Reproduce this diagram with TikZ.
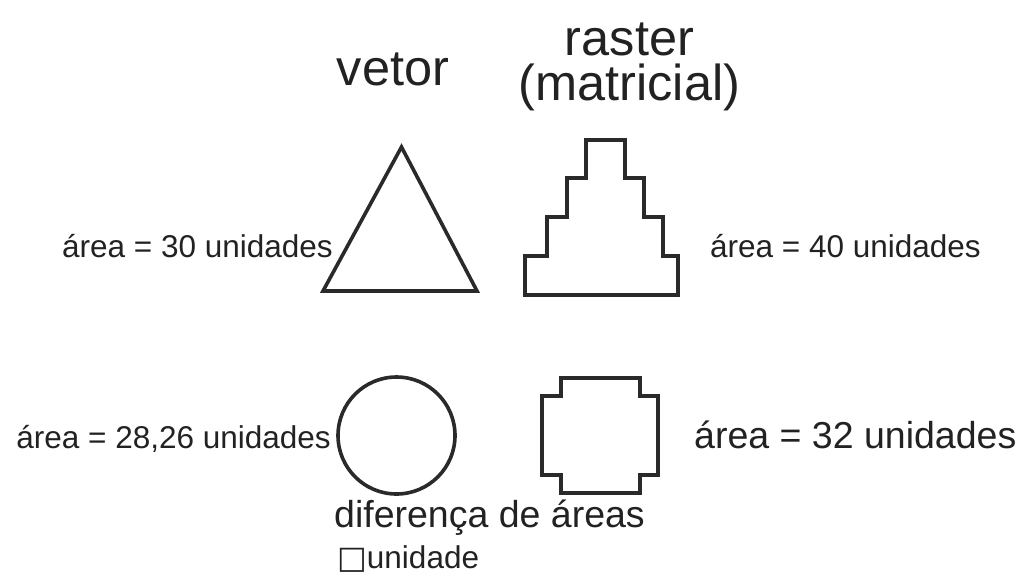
\documentclass[tikz,border=0pt]{standalone}
\usepackage{fontspec}
\setmainfont{Liberation Sans}
\newfontfamily\symfont{DejaVu Sans}
\definecolor{ink}{HTML}{222222}
\definecolor{linec}{HTML}{2A2A2A}
\tikzset{
  lbl/.style={inner sep=0pt, text=ink, font=\fontsize{31.5}{37}\selectfont},
  biglbl/.style={inner sep=0pt, text=ink, font=\fontsize{37.5}{44}\selectfont},
  head/.style={inner sep=0pt, text=ink, font=\fontsize{50.5}{45}\selectfont},
  shapeline/.style={draw=linec, line width=3.6pt, line join=miter}
}
\begin{document}
\begin{tikzpicture}[x=1pt,y=-1pt]
\useasboundingbox (0,0) rectangle (1027,576);
% headings
\node[head, anchor=base] (vetor) at (393,85) {vetor};
\node[head, anchor=base, align=center] (raster) at (629.5,100) {raster\\(matricial)};
% vector shapes
\draw[shapeline] (401.5,147) -- (477,291) -- (323,291) -- cycle;
\draw[shapeline] (396.5,435.5) circle[radius=58.5];
% raster shapes
\draw[shapeline] (525,295) -- (525,256) -- (547,256) -- (547,217) -- (567,217) -- (567,178)
  -- (586,178) -- (586,140) -- (625,140) -- (625,178) -- (644,178) -- (644,217)
  -- (663,217) -- (663,256) -- (678,256) -- (678,295) -- cycle;
\draw[shapeline] (542,396) -- (561,396) -- (561,378) -- (640,378) -- (640,396) -- (658,396)
  -- (658,475) -- (640,475) -- (640,493) -- (561,493) -- (561,475) -- (542,475) -- cycle;
% labels
\node[lbl, anchor=base east] (a30) at (333,257) {área = 30 unidades};
\node[lbl, anchor=base west] (a40) at (710,257) {área = 40 unidades};
\node[lbl, anchor=base east] (a28) at (331,448) {área = 28,26 unidades};
\node[biglbl, anchor=base west] (a32) at (694,448) {área = 32 unidades};
\node[biglbl, anchor=base west] (dif) at (334,527) {diferença de áreas};
\node[lbl, anchor=base west] (uni) at (337,568) {{\symfont □}unidade};
\end{tikzpicture}
\end{document}
